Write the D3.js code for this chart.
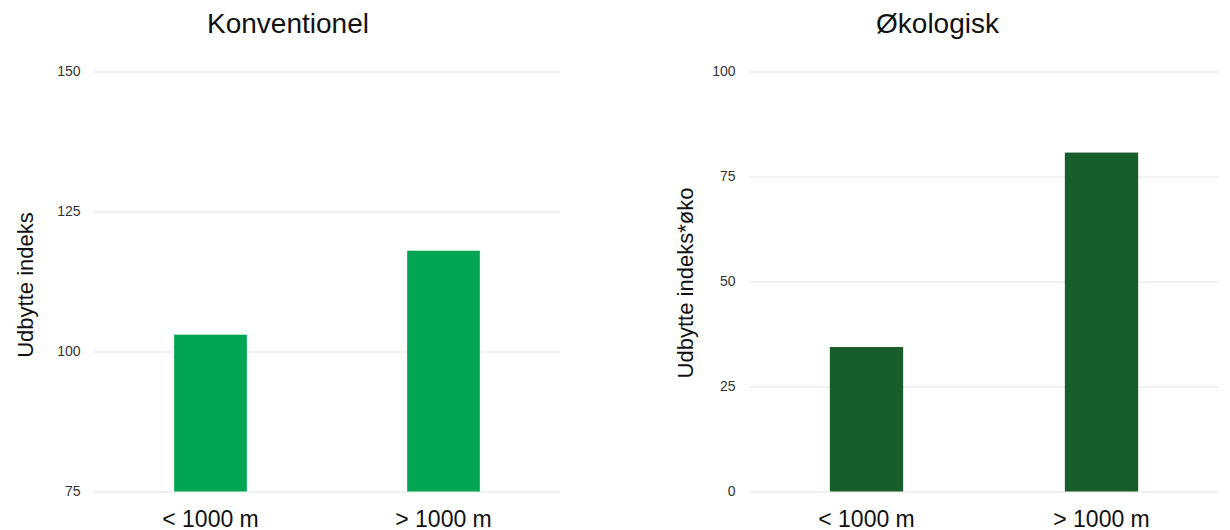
<!DOCTYPE html>
<html>
<head>
<meta charset="utf-8">
<script src="https://cdn.jsdelivr.net/npm/d3@7"></script>
<style>
  html, body { margin: 0; padding: 0; background: #fff; }
  svg { display: block; font-family: "Liberation Sans", Arial, sans-serif; }
</style>
</head>
<body>
<svg id="chart" width="1230" height="530"></svg>
<script>
// Afstand til mark og udbytteindeks
const categories = ["< 1000 m", "> 1000 m"];
const konventionelValues = [103, 118];
const oekologiskValues = [34.4, 80.7];
const konventionelTicks = [75, 100, 125, 150];
const oekologiskTicks = [0, 25, 50, 75, 100];

const panels = [
  {
    title: "Konventionel", yTitle: "Udbytte indeks",
    values: konventionelValues, ticks: konventionelTicks, domain: [75, 150],
    x0: 94, x1: 560, titleX: 288, yTitleX: 33, yTitleY: 285, color: "#00a651"
  },
  {
    title: "Økologisk", yTitle: "Udbytte indeks*øko",
    values: oekologiskValues, ticks: oekologiskTicks, domain: [0, 100],
    x0: 749, x1: 1219, titleX: 937.5, yTitleX: 693, yTitleY: 283, color: "#185e2d"
  }
];

const svg = d3.select("#chart");
const yTop = 71.5, yBottom = 491.5;

panels.forEach(p => {
  const g = svg.append("g");

  const x = d3.scaleBand()
    .domain(categories)
    .range([p.x0, p.x1])
    .paddingInner(0.688)
    .paddingOuter(0.344);

  const y = d3.scaleLinear().domain(p.domain).range([yBottom, yTop]);

  // gridlines + tick labels
  const yAxis = d3.axisLeft(y)
    .tickValues(p.ticks)
    .tickSize(-(p.x1 - p.x0))
    .tickPadding(13)
    .tickFormat(d3.format("d"));

  const ya = g.append("g")
    .attr("transform", `translate(${p.x0},0)`)
    .call(yAxis)
    .attr("font-family", null)
    .attr("font-size", 14);
  ya.select(".domain").remove();
  ya.selectAll(".tick line").attr("stroke", "#e3e3e3").attr("stroke-width", 1);
  ya.selectAll(".tick text")
    .attr("fill", "#333")
    .attr("dx", -0.5);

  // bars
  g.selectAll("rect.bar")
    .data(p.values)
    .join("rect")
    .attr("class", "bar")
    .attr("x", (d, i) => x(categories[i]))
    .attr("width", x.bandwidth())
    .attr("y", d => y(d))
    .attr("height", d => y(p.domain[0]) - y(d))
    .attr("fill", p.color);

  // category labels
  const xAxis = d3.axisBottom(x).tickSize(0).tickPadding(0);
  const xa = g.append("g")
    .attr("transform", `translate(0,${yBottom})`)
    .call(xAxis)
    .attr("font-family", null)
    .attr("font-size", 23);
  xa.select(".domain").remove();
  xa.selectAll(".tick text")
    .attr("y", 35)
    .attr("dy", null)
    .attr("fill", "#111");

  // panel title
  g.append("text")
    .attr("x", p.titleX)
    .attr("y", 33)
    .attr("text-anchor", "middle")
    .attr("fill", "#111")
    .style("font-size", "28px")
    .text(p.title);

  // y-axis title
  g.append("text")
    .attr("transform", `translate(${p.yTitleX},${p.yTitleY}) rotate(-90)`)
    .attr("text-anchor", "middle")
    .attr("fill", "#111")
    .style("font-size", "22px")
    .text(p.yTitle);
});
</script>
</body>
</html>
